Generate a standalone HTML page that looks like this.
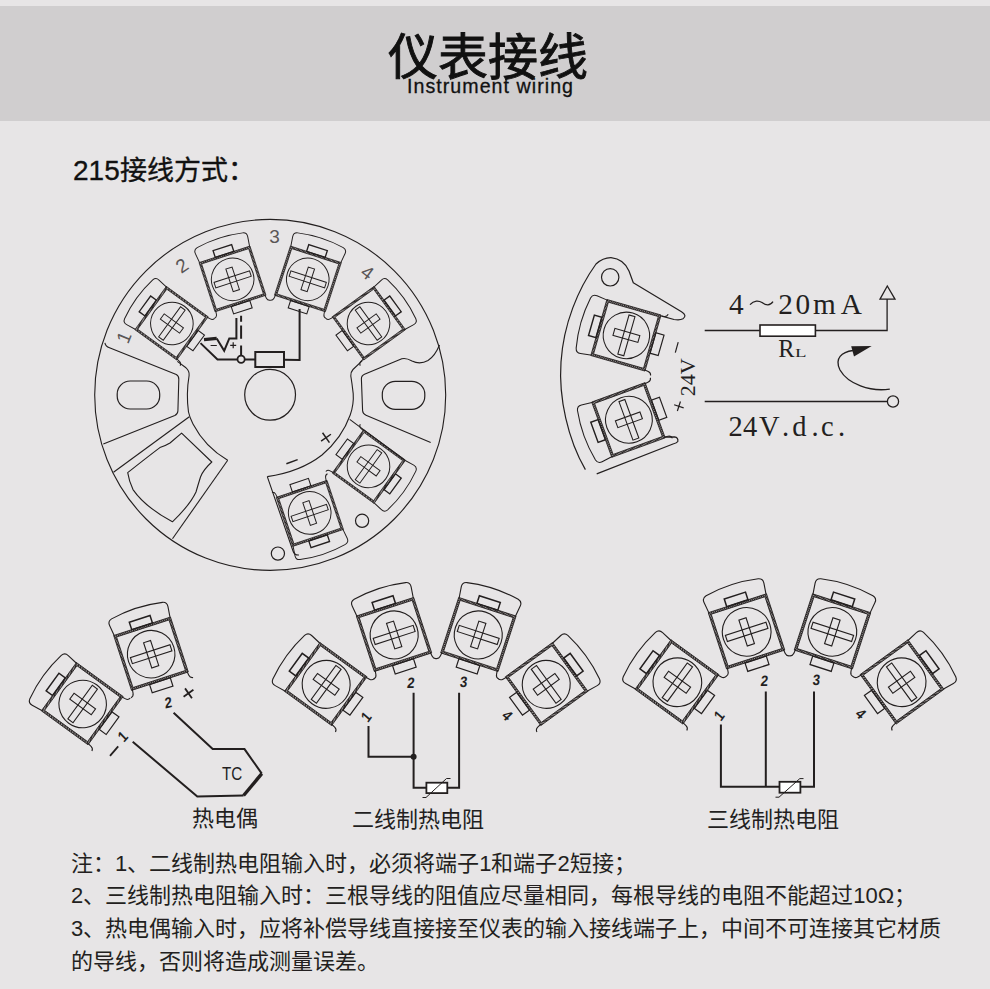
<!DOCTYPE html>
<html lang="zh-CN"><head><meta charset="utf-8">
<style>
html,body{margin:0;padding:0;}
body{width:990px;height:989px;overflow:hidden;background:#e7e5e6;position:relative;font-family:"Liberation Sans",sans-serif;color:#1a1a1a;}
.band{position:absolute;left:0;top:6px;width:990px;height:115px;background:#d0cecf;}
.t{position:absolute;white-space:nowrap;line-height:1;}
#title{left:388px;top:33px;font-size:50px;-webkit-text-stroke:0.9px #111;color:#111;}
#sub{left:407px;top:76.5px;font-size:19.6px;letter-spacing:1.05px;color:#111;-webkit-text-stroke:0.3px #111;}
#h215{left:73px;top:157px;font-size:27px;color:#111;-webkit-text-stroke:0.35px #111;}
.note{left:71px;font-size:22px;color:#231f20;}
svg{position:absolute;left:0;top:0;}
</style></head><body>
<div class="band"></div>
<div class="t" id="title">仪表接线</div>
<div class="t" id="sub">Instrument wiring</div>
<div class="t" id="h215"><span style="font-size:28px">215</span>接线方式：</div>
<div class="t note" style="top:852.5px">注：1、二线制热电阻输入时，必须将端子1和端子2短接；</div>
<div class="t note" style="top:885.2px">2、三线制热电阻输入时：三根导线的阻值应尽量相同，每根导线的电阻不能超过10Ω；</div>
<div class="t note" style="top:918px">3、热电偶输入时，应将补偿导线直接接至仪表的输入接线端子上，中间不可连接其它材质</div>
<div class="t note" style="top:951px">的导线，否则将造成测量误差。</div>
<svg width="990" height="989" viewBox="0 0 990 989">
<defs>
<pattern id="hatch" patternUnits="userSpaceOnUse" width="1.6" height="1.6" patternTransform="rotate(45)"><rect width="1.6" height="1.6" fill="#d8d5d5"/><rect width="1.1" height="1.6" fill="#231f1f"/></pattern>
<g id="term" fill="none" stroke="#231f1f">
  <path d="M-29.5,-28.5 L-31,-40.5 Q-31.6,-45.2 -27,-46.3 Q0,-51.5 27,-46.3 Q31.6,-45.2 31,-40.5 L29.5,-28.5" stroke-width="1.1"/>
  <rect x="-29" y="-28.5" width="58" height="56" stroke="url(#hatch)" stroke-width="2.3"/>
  <rect x="-30.15" y="-29.65" width="60.3" height="58.3" stroke-width="0.8"/>
  <rect x="-27.85" y="-27.35" width="55.7" height="53.7" stroke-width="0.8"/>
  <path d="M-29,27.5 L-29.6,32 Q-30,35 -33,35.5 M29,27.5 L29.6,32 Q30,35 33,35.5" stroke-width="1.1"/>
  <rect x="-11" y="-37.6" width="22" height="7.95" stroke-width="1.5"/>
  <rect x="-11" y="28.65" width="22" height="8.7" stroke-width="1.2"/>
  <circle r="24" stroke-width="1.1"/>
  <rect x="-21" y="-3.2" width="42" height="6.4" stroke-width="1.1"/>
  <rect x="-3.7" y="-13.4" width="7.4" height="26.8" stroke-width="1.1"/>
</g>
</defs>
<g fill="none" stroke="#231f1f" stroke-width="1.2">
<circle cx="270.2" cy="394.9" r="175.5" stroke-width="1.1"/>
<circle cx="270.1" cy="394.8" r="25.4"/>
<rect x="117.2" y="381" width="42.5" height="28" rx="13"/>
<rect x="382.3" y="381.3" width="42.5" height="28" rx="13"/>
<circle cx="277.9" cy="553.6" r="6.6"/><circle cx="362.1" cy="520.8" r="6.6"/>
</g>
<use href="#term" transform="translate(171.90,323.48) rotate(-54) scale(0.8875)"/>
<use href="#term" transform="translate(232.65,279.35) rotate(-18) scale(0.8875)"/>
<use href="#term" transform="translate(307.75,279.35) rotate(18) scale(0.8875)"/>
<use href="#term" transform="translate(368.50,323.48) rotate(54) scale(0.8875)"/>
<use href="#term" transform="translate(368.50,466.32) rotate(126) scale(0.8875)"/>
<use href="#term" transform="translate(309.70,512.97) rotate(161.5) scale(0.8875)"/>
<g fill="none" stroke="#231f1f" stroke-width="1.1" stroke-linejoin="round">
<path d="M104.9,342.8 Q105.5,346.2 109.5,347.8 L176.3,374.4 Q179,375.8 178.8,379.5 L177.9,411 Q177.6,414.3 174.8,415.5 L103.3,444.1"/>
<path d="M439.5,345 Q435,356 428,360.5 Q420,365 412,361 Q406,357.6 401.8,358.8 L364.5,374.2 Q361.3,375.6 361.4,379 L362.6,410.8 Q362.9,414 366,415.3 L430.7,442.6"/>
<path d="M177.3,361.4 L186,367.8 Q189.6,370.8 189.1,375.5 Q186,394 188.5,412 Q189.5,417 193,424 Q205,447 227.7,460.3"/>
<path d="M267.3,476.6 Q300,472 322,455 Q342,438 350.2,415 Q354,404 353.2,393.6 Q352,383 350.8,376 Q350.6,372 353,369.5 L362.3,360.7"/>
<path d="M189.3,416.8 L113.5,472.3"/>
<path d="M227.7,460.3 L172.5,538.7"/>
<path d="M267.3,476.6 L293,551 Q294.5,555.5 299,555"/>
<path d="M349.7,419.4 L404.4,460"/>
<path d="M127.7,472.6 Q150,455 159.9,447.6 Q165,446 170,443 L181.6,433.1 L211.8,462 Q203,470 200.5,477 Q198,485 196,492 Q190,505 172.4,521.8 Q145,507 133,489.6 Q129,481 127.7,472.6 Z"/>
</g>
<text x="0" y="6.8" transform="translate(123.6,337.3) rotate(-68)" font-family="Liberation Sans, sans-serif" font-size="19" fill="#5a5656" text-anchor="middle">1</text>
<text x="0" y="6.8" transform="translate(181.8,265.5) rotate(-34)" font-family="Liberation Sans, sans-serif" font-size="19" fill="#5a5656" text-anchor="middle">2</text>
<text x="0" y="6.8" transform="translate(274.5,236) rotate(0)" font-family="Liberation Sans, sans-serif" font-size="19" fill="#5a5656" text-anchor="middle">3</text>
<text x="0" y="6.8" transform="translate(367.6,272.4) rotate(36)" font-family="Liberation Sans, sans-serif" font-size="19" fill="#5a5656" text-anchor="middle">4</text>
<g stroke="#231f1f" stroke-width="1.5" fill="none">
<path d="M-6,0 H6 M0,-6 V6" transform="translate(326,437.7) rotate(-35)"/>
<path d="M-6,0 H6" transform="translate(292,461.7) rotate(-20)"/>
</g>
<g stroke="#231f1f" stroke-width="2" fill="none" stroke-linejoin="miter">
<path d="M236.4,317.9 V338.4 H229.3 L224.2,350.7 L216.7,338.4"/>
<path d="M216.7,338.4 L204,339.6" stroke-width="3.2"/>
<path d="M241.1,315.8 V321.8 M241.1,325.5 V338.8 M241.1,345.5 V355.6"/>
<circle cx="241.1" cy="359.3" r="3.6" stroke-width="1.8"/>
<path d="M200.5,343.1 L217.5,359.5 H237.5 M244.7,359.5 H255.3"/>
<rect x="255.3" y="352" width="28.7" height="15" stroke-width="2"/>
<path d="M284,359.8 L299.6,360.1 V309"/>
</g>
<g stroke="#231f1f" stroke-width="1.2" fill="none"><path d="M210.6,345.5 H216.8 M230.2,345.3 H236.2 M233.2,342.3 V348.3"/></g>
<g fill="none" stroke="#231f1f" stroke-width="1.2" stroke-linejoin="round">
<path d="M585.4,469.6 C568,440 558.5,398 561,362 C563.5,324 578,289 596,264 Q603,257.5 611,257.6 Q624,259 629,271 L633.3,282.8 L681.5,311.8 Q687.5,315.5 683,318.8 Q680,320.5 674,319.5 L661.8,316.1"/>
<circle cx="610.2" cy="277.3" r="8.7"/>
<path d="M664.6,437.1 L674.5,436.9 Q678.5,437.5 677.8,441.5 Q677,443 673,444 L596.7,473.9"/>
</g>
<use href="#term" transform="translate(626.4,335.4) rotate(-74) scale(0.967)"/>
<use href="#term" transform="translate(628.9,419.8) rotate(-110) scale(0.975)"/>
<g fill="none" stroke="#231f1f" stroke-width="1.3">
<path d="M704.7,330.5 H759.8 M815.6,330.5 H887.1 V299.1 M704.7,401.5 H887.3"/>
<path d="M887.3,286 L880,299.1 H895 Z"/>
<circle cx="893" cy="401.5" r="5.6"/>
<path d="M889.8,389.1 C870,392 848,384 840,370 C834,358 842,352 853,350.5"/>
</g>
<rect x="760" y="325" width="55.4" height="11.2" fill="#fff" stroke="#231f1f" stroke-width="1.6"/>
<path d="M871.7,346 L851.2,346.3 L854,356.6 Z" fill="#231f1f"/>
<g font-family="Liberation Serif, serif" fill="#231f1f">
<text y="313.6" font-size="29.3"><tspan x="729.1">4</tspan><tspan x="778.3">2</tspan><tspan x="795.4">0</tspan><tspan x="812.9">m</tspan><tspan x="840.7">A</tspan></text>
<text y="357" font-size="24.4" x="778.2">R</text><text x="0" y="0" font-size="13" transform="translate(795.1,357) scale(1.45,1)">L</text>
<text y="435.5" font-size="28.5"><tspan x="728.45">2</tspan><tspan x="742.9">4</tspan><tspan x="759.1">V</tspan><tspan x="781.9">.</tspan><tspan x="792.3">d</tspan><tspan x="811.6">.</tspan><tspan x="820.9">c</tspan><tspan x="838.1">.</tspan></text>
<text x="0" y="0" font-size="22" transform="translate(694.7,396.3) rotate(-90)">24V</text>
</g>
<path d="M750,304.7 C754,300 759,300.5 762,302.5 C766,305.5 770,306 773,301.7" fill="none" stroke="#231f1f" stroke-width="1.3"/>
<g stroke="#231f1f" stroke-width="1.2" fill="none"><path d="M-5,0 H5 M0,-5 V5" transform="translate(678.9,406.3) rotate(-72)"/><path d="M678.2,342.2 L675.3,352.6"/></g>
<use href="#term" transform="translate(82.66,703.97) rotate(-54) scale(0.99)"/>
<use href="#term" transform="translate(151.16,654.21) rotate(-18) scale(0.99)"/>
<use href="#term" transform="translate(326.17,684.36) rotate(-54) scale(1.0)"/>
<use href="#term" transform="translate(394.17,634.96) rotate(-18) scale(1.0)"/>
<use href="#term" transform="translate(478.23,634.96) rotate(18) scale(1.0)"/>
<use href="#term" transform="translate(546.23,684.36) rotate(54) scale(1.0)"/>
<use href="#term" transform="translate(677.37,682.23) rotate(-54) scale(1.015)"/>
<use href="#term" transform="translate(746.67,631.88) rotate(-18) scale(1.015)"/>
<use href="#term" transform="translate(832.33,631.88) rotate(18) scale(1.015)"/>
<use href="#term" transform="translate(901.63,682.23) rotate(54) scale(1.015)"/>
<g fill="none" stroke="#231f1f" stroke-width="2" stroke-linejoin="miter">
<path d="M173.6,712.7 L212.7,749.1 H244.5 L261.8,773.6"/>
<path d="M261.8,773.6 L243.6,795.5" stroke-width="3.4"/>
<path d="M243.6,795.5 L197.3,796.4 L132.7,741.8"/>
<path d="M110,755.8 L118.2,746.4" stroke-width="1.8"/>
<path d="M-6,0 H6 M0,-6 V6" transform="translate(188.5,693.3) rotate(-35)" stroke-width="1.8"/>
<path d="M413.6,692.7 V787.8 H426.4 M447.3,787.8 H459.1 V692.7 M368.5,726 V756.7 H413.6"/>
<path d="M720.9,724.5 V786.7 H779.5 M765.8,691.5 V786.7 M800.4,786.7 H814 V691.5"/>
</g>
<circle cx="413.6" cy="756.7" r="3" fill="#231f1f"/>
<rect x="426.4" y="782.7" width="20.9" height="10.4" fill="#fff" stroke="#231f1f" stroke-width="1.8"/>
<rect x="779.5" y="781.8" width="20.9" height="10.9" fill="#fff" stroke="#231f1f" stroke-width="1.8"/>
<g fill="none" stroke="#231f1f" stroke-width="1"><path d="M422.5,797.5 H426 L446.5,778.5 H450.5"/><path d="M775.5,797.2 H779 L799.8,778.6 H803.5"/></g>
<text x="0" y="0" transform="translate(168.2,702.5) rotate(-12) skewX(-6) scale(0.88,1)" text-anchor="middle" dominant-baseline="central" font-family="Liberation Sans, sans-serif" font-weight="bold" font-size="15" fill="#231f1f">2</text>
<text x="0" y="0" transform="translate(122.7,736.4) rotate(-50) skewX(-6) scale(0.88,1)" text-anchor="middle" dominant-baseline="central" font-family="Liberation Sans, sans-serif" font-weight="bold" font-size="15" fill="#231f1f">1</text>
<text x="0" y="0" transform="translate(366,716.8) rotate(-55) skewX(-6) scale(0.88,1)" text-anchor="middle" dominant-baseline="central" font-family="Liberation Sans, sans-serif" font-weight="bold" font-size="15" fill="#231f1f">1</text>
<text x="0" y="0" transform="translate(411,682.5) rotate(0) skewX(-6) scale(0.88,1)" text-anchor="middle" dominant-baseline="central" font-family="Liberation Sans, sans-serif" font-weight="bold" font-size="15" fill="#231f1f">2</text>
<text x="0" y="0" transform="translate(463.6,682) rotate(0) skewX(-6) scale(0.88,1)" text-anchor="middle" dominant-baseline="central" font-family="Liberation Sans, sans-serif" font-weight="bold" font-size="15" fill="#231f1f">3</text>
<text x="0" y="0" transform="translate(507.3,715.5) rotate(40) skewX(-6) scale(0.88,1)" text-anchor="middle" dominant-baseline="central" font-family="Liberation Sans, sans-serif" font-weight="bold" font-size="15" fill="#231f1f">4</text>
<text x="0" y="0" transform="translate(719,715.6) rotate(-55) skewX(-6) scale(0.88,1)" text-anchor="middle" dominant-baseline="central" font-family="Liberation Sans, sans-serif" font-weight="bold" font-size="15" fill="#231f1f">1</text>
<text x="0" y="0" transform="translate(764.5,680.9) rotate(0) skewX(-6) scale(0.88,1)" text-anchor="middle" dominant-baseline="central" font-family="Liberation Sans, sans-serif" font-weight="bold" font-size="15" fill="#231f1f">2</text>
<text x="0" y="0" transform="translate(816.4,680) rotate(0) skewX(-6) scale(0.88,1)" text-anchor="middle" dominant-baseline="central" font-family="Liberation Sans, sans-serif" font-weight="bold" font-size="15" fill="#231f1f">3</text>
<text x="0" y="0" transform="translate(860.9,713.6) rotate(40) skewX(-6) scale(0.88,1)" text-anchor="middle" dominant-baseline="central" font-family="Liberation Sans, sans-serif" font-weight="bold" font-size="15" fill="#231f1f">4</text>
<text x="0" y="0" transform="translate(222,780.4) scale(0.8,1)" font-family="Liberation Sans, sans-serif" font-size="19" fill="#231f1f">TC</text>
<g font-family="Liberation Sans, sans-serif" font-size="22" fill="#231f1f" text-anchor="middle">
<text x="224.5" y="826">热电偶</text>
<text x="418" y="827">二线制热电阻</text>
<text x="773" y="827">三线制热电阻</text>
</g></svg>
</body></html>
